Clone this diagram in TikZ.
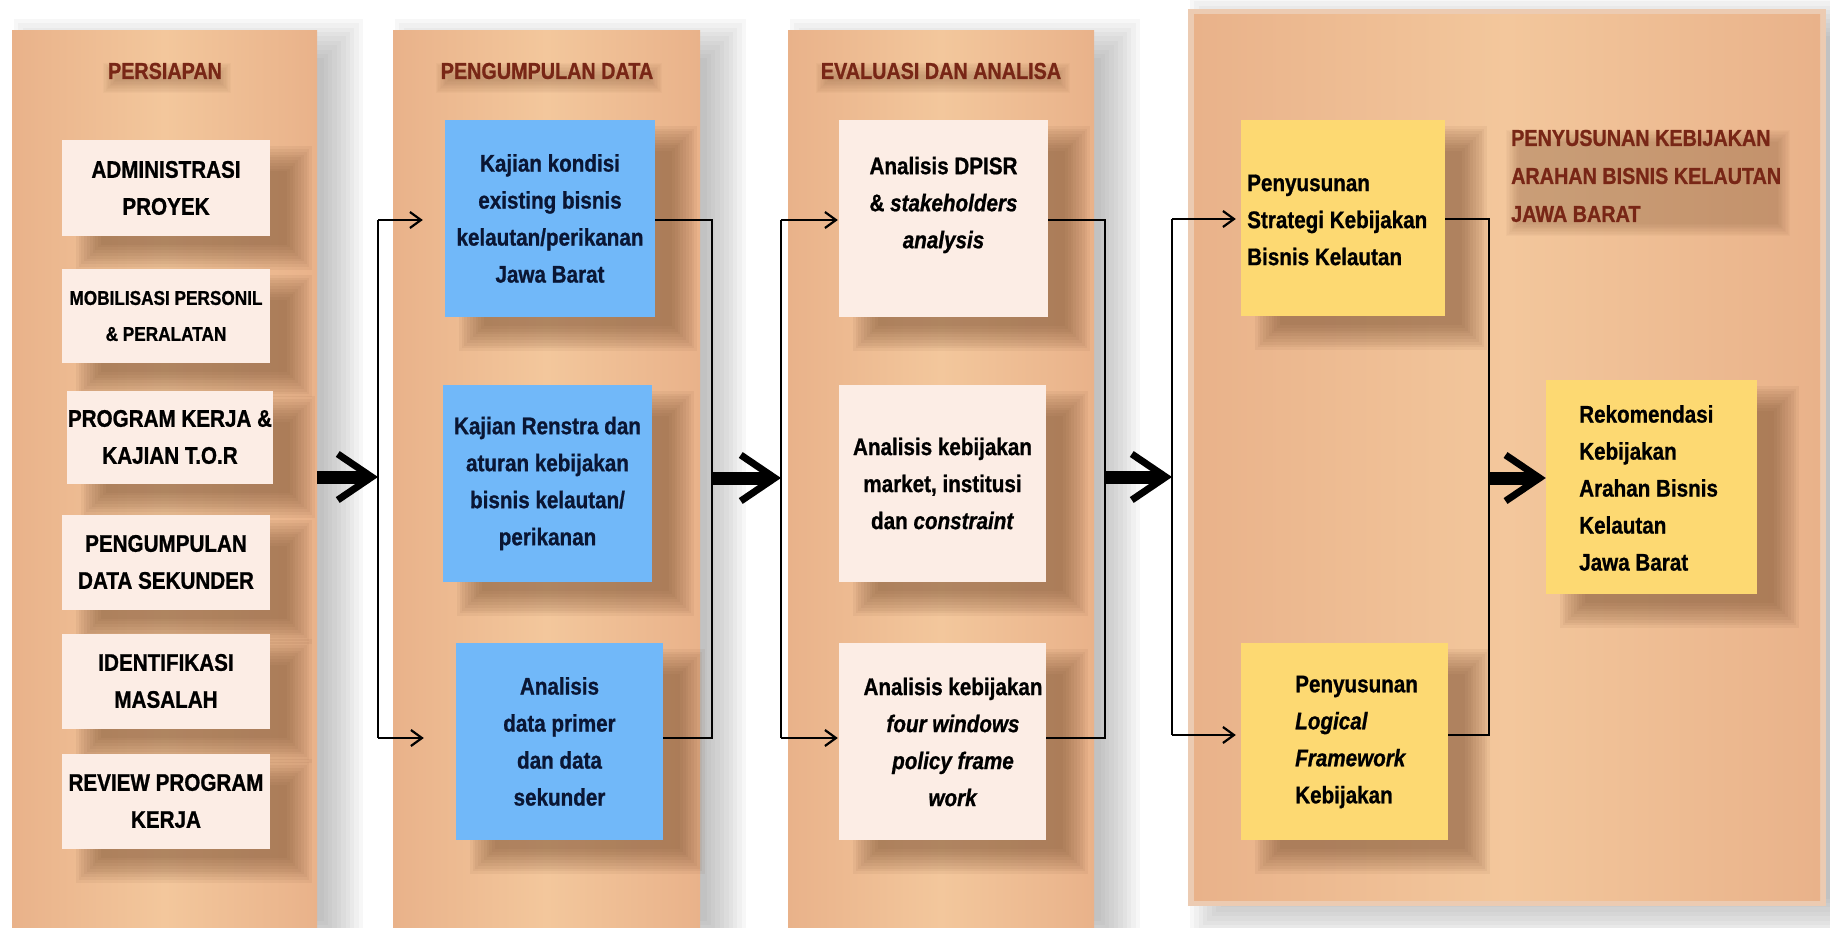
\documentclass[tikz,border=0pt]{standalone}
\usepackage{fontspec}
\setmainfont{Liberation Sans}[FakeStretch=0.86,
  BoldFeatures={FakeBold=0.9}, BoldItalicFeatures={FakeBold=0.9}]
\usetikzlibrary{arrows.meta,calc}

\pgfdeclarelayer{back}
\pgfdeclarelayer{panels}
\pgfdeclarelayer{shades}
\pgfsetlayers{back,panels,shades,main}

\definecolor{panelEdge}{RGB}{233,178,138}
\definecolor{panelMid}{RGB}{243,199,156}
\definecolor{panelRim}{RGB}{236,203,178}
\definecolor{pinkbox}{RGB}{252,237,229}
\definecolor{bluebox}{RGB}{113,184,249}
\definecolor{yellowbox}{RGB}{253,217,114}
\definecolor{titlered}{RGB}{120,38,22}
\definecolor{navytext}{RGB}{10,22,52}
\definecolor{boxshade}{RGB}{120,78,48}
\definecolor{panelshade}{RGB}{130,130,130}

% soft drop shadow behind a node: name, x shift, y shift, colour, blur radius, layer opacity
\newcommand\softshade[6]{%
  \foreach \k in {0,...,9}{%
    \fill[#4, opacity=#6]
      ($(#1.north west)+(#2-#5+\k*#5/5,#3-#5+\k*#5/5)$) rectangle
      ($(#1.south east)+(#2+#5-\k*#5/5,#3+#5-\k*#5/5)$);
  }}

\begin{document}
\begin{tikzpicture}[x=1pt, y=-1pt, line join=miter,
  txt/.style={inner sep=0pt, font=\fontsize{24}{37}\selectfont\bfseries},
  box/.style={txt, rectangle, align=center},
  pinkb/.style={box, fill=pinkbox, text=black},
  blueb/.style={box, fill=bluebox, text=navytext},
  yellowb/.style={box, fill=yellowbox, text=black},
  paneltitle/.style={inner sep=0pt, font=\fontsize{23}{38}\selectfont\bfseries, text=titlered},
  panel/.style={rectangle, inner sep=0pt, left color=panelEdge, right color=panelEdge, middle color=panelMid},
  link/.style={line width=2.6pt},
  feed/.style={link, -{Straight Barb[length=11pt,width=16pt,line width=2.2pt]}},
  bigarrow/.style={line width=13pt, -{Straight Barb[length=34pt,width=46pt,line width=7pt]}},
]
\useasboundingbox (0,0) rectangle (1830,928);

% ---------- stage panels ----------
\begin{pgfonlayer}{panels}
  \node[panel, minimum width=305, minimum height=897] (p1) at (164.5,479.5) {};
  \node[panel, minimum width=307, minimum height=897] (p2) at (546.5,479.5) {};
  \node[panel, minimum width=306, minimum height=897] (p3) at (941,479.5) {};
  \node[rectangle, fill=panelRim, minimum width=638, minimum height=897] (p4) at (1507,457.5) {};
  \node[panel, minimum width=626, minimum height=885] (p4in) at (1507,457.5) {};
\end{pgfonlayer}

\begin{pgfonlayer}{back}
  \fill[white] (0,0) rectangle (1830,928);
  \foreach \p in {p1,p2,p3,p4} {\softshade{\p}{24}{10}{panelshade}{22}{0.06}}
\end{pgfonlayer}

% ---------- titles ----------
\node[paneltitle] (t1) at (165,71) {PERSIAPAN};
\node[paneltitle] (t2) at (547,71) {PENGUMPULAN DATA};
\node[paneltitle] (t3) at (941,71) {EVALUASI DAN ANALISA};
\node[paneltitle, anchor=west, align=left] (t4) at (1511,176)
  {PENYUSUNAN KEBIJAKAN\\ARAHAN BISNIS KELAUTAN\\JAWA BARAT};

% ---------- persiapan ----------
\node[pinkb, minimum width=208, minimum height=95] (adm) at (166,188) {ADMINISTRASI\\PROYEK};
\node[pinkb, minimum width=208, minimum height=94, font=\fontsize{20}{36}\selectfont\bfseries]
  (mob) at (166,316) {MOBILISASI PERSONIL\\\& PERALATAN};
\node[pinkb, minimum width=206, minimum height=93] (prog) at (170,437) {PROGRAM KERJA \&\\KAJIAN T.O.R};
\node[pinkb, minimum width=208, minimum height=95] (pds) at (166,562) {PENGUMPULAN\\DATA SEKUNDER};
\node[pinkb, minimum width=208, minimum height=95] (idm) at (166,681) {IDENTIFIKASI\\MASALAH};
\node[pinkb, minimum width=208, minimum height=95] (rev) at (166,801) {REVIEW PROGRAM\\KERJA};

% ---------- pengumpulan data ----------
\node[blueb, minimum width=210, minimum height=197] (k1) at (550,218.5)
  {Kajian kondisi\\existing bisnis\\kelautan/perikanan\\Jawa Barat};
\node[blueb, minimum width=209, minimum height=197] (k2) at (547.5,483.5)
  {Kajian Renstra dan\\aturan kebijakan\\bisnis kelautan/\\perikanan};
\node[blueb, minimum width=207, minimum height=197] (k3) at (559.5,741.5)
  {Analisis\\data primer\\dan data\\sekunder};

% ---------- evaluasi dan analisa ----------
\node[pinkb, minimum width=209, minimum height=197] (d1) at (943.5,218.5) {};
\node[txt, align=center] (d1txt) at (943.5,205)
  {Analisis DPISR\\\& \textit{stakeholders}\\\textit{analysis}};
\node[pinkb, minimum width=207, minimum height=197] (d2) at (942.5,483.5)
  {Analisis kebijakan\\market, institusi\\dan \textit{constraint}};
\node[pinkb, minimum width=207, minimum height=197] (d3) at (942.5,741.5) {};
\node[txt, align=center] (d3txt) at (953,742)
  {Analisis kebijakan\\\textit{four windows}\\\textit{policy frame}\\\textit{work}};

% ---------- penyusunan kebijakan ----------
\node[yellowb, minimum width=204, minimum height=196] (s1) at (1343,218) {};
\node[txt, anchor=west, align=left] (s1txt) at (1247,220)
  {Penyusunan\\Strategi Kebijakan\\Bisnis Kelautan};
\node[yellowb, minimum width=211, minimum height=214] (rk) at (1651.5,487) {};
\node[txt, anchor=west, align=left] (rktxt) at (1579,488)
  {Rekomendasi\\Kebijakan\\Arahan Bisnis\\Kelautan\\Jawa Barat};
\node[yellowb, minimum width=207, minimum height=197] (lf) at (1344.5,741.5) {};
\node[txt, anchor=west, align=left] (lftxt) at (1295,742)
  {Penyusunan\\\textit{Logical}\\\textit{Framework}\\Kebijakan};

% ---------- box shadows and the haze under the titles ----------
\begin{pgfonlayer}{shades}
  \foreach \n in {adm,mob,prog,pds,idm,rev,k1,k2,k3,d1,d2,d3,s1,rk,lf}
    {\softshade{\n}{28}{20}{boxshade}{14}{0.07}}
  \foreach \t in {t1,t2,t3,t4}
    {\softshade{\t}{2}{7}{boxshade}{7}{0.035}}
\end{pgfonlayer}

% ---------- connectors ----------
\coordinate (b1t) at (378,220);
\coordinate (b1m) at (378,477);
\coordinate (b1b) at (378,738);
\draw[bigarrow] (p1.east |- b1m) -- (b1m);
\draw[link] (b1t) -- (b1b);
\draw[feed, shorten >=22pt] (b1t) -- (b1t -| k1.west);
\draw[feed, shorten >=32pt] (b1b) -- (b1b -| k3.west);

\coordinate (c2t) at (712,220);
\coordinate (c2m) at (712,478);
\coordinate (c2b) at (712,738);
\draw[link] (k1.east |- c2t) -- (c2t) -- (c2b) -- (k3.east |- c2b);
\coordinate (b2t) at (781,220);
\coordinate (b2m) at (781,478);
\coordinate (b2b) at (781,738);
\draw[bigarrow] (c2m) -- (b2m);
\draw[link] (b2t) -- (b2b);
\draw[feed, shorten >=1pt] (b2t) -- (b2t -| d1.west);
\draw[feed, shorten >=1pt] (b2b) -- (b2b -| d3.west);

\coordinate (c3t) at (1105,220);
\coordinate (c3m) at (1105,477);
\coordinate (c3b) at (1105,738);
\draw[link] (d1.east |- c3t) -- (c3t) -- (c3b) -- (d3.east |- c3b);
\coordinate (b3t) at (1172,219);
\coordinate (b3m) at (1172,477);
\coordinate (b3b) at (1172,735);
\draw[bigarrow] (c3m) -- (b3m);
\draw[link] (b3t) -- (b3b);
\draw[feed, shorten >=5pt] (b3t) -- (b3t -| s1.west);
\draw[feed, shorten >=5pt] (b3b) -- (b3b -| lf.west);

\coordinate (c4t) at (1489,219);
\coordinate (c4m) at (1489,478);
\coordinate (c4b) at (1489,735);
\draw[link] (s1.east |- c4t) -- (c4t) -- (c4b) -- (lf.east |- c4b);
\draw[bigarrow] (c4m) -- (c4m -| rk.west);
\end{tikzpicture}
\end{document}
